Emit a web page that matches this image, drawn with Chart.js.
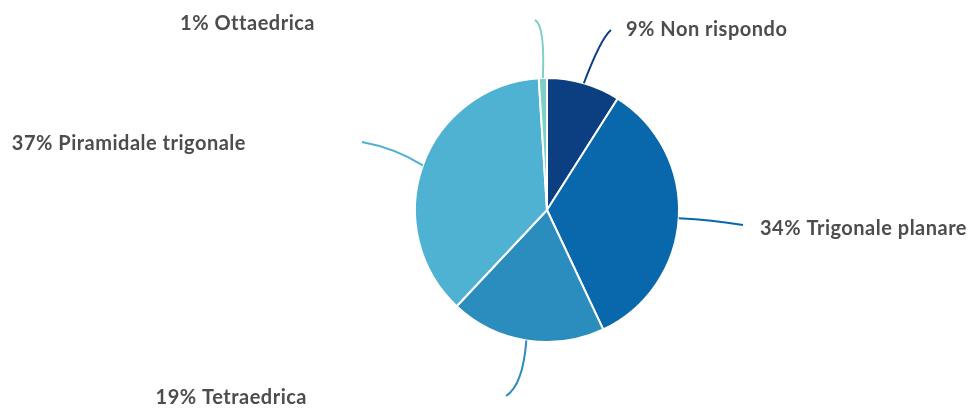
<!DOCTYPE html>
<html>
<head>
<meta charset="utf-8">
<script src="https://cdn.jsdelivr.net/npm/chart.js@4"></script>
<style>
  html, body { margin: 0; padding: 0; background: #fff; }
  #wrap { width: 973px; height: 408px; }
</style>
</head>
<body>
<div id="wrap"><canvas id="pie"></canvas></div>
<script>
const labels = ["Non rispondo", "Trigonale planare", "Tetraedrica", "Piramidale trigonale", "Ottaedrica"];
const percentages = [9, 34, 19, 37, 1];
const sliceColors = ["#0b3f81", "#0868ab", "#2b8cbe", "#4fb2d2", "#7fcfc6"];

// leader line end and label anchor, as offsets from the pie centre
const labelLayout = [
  { end: [64, -180], ctrl: [54, -172], text: [79, -180], align: "left" },
  { end: [196, 15], ctrl: [165, 10], text: [213, 19], align: "left" },
  { end: [-41, 186], ctrl: [-24, 175], text: [-240, 188], align: "right" },
  { end: [-185, -68], ctrl: [-152, -62], text: [-301, -66], align: "right" },
  { end: [-12, -190], ctrl: [-2, -185], text: [-232, -186], align: "right" },
];

const outerLabels = {
  id: "outerLabels",
  afterDatasetsDraw(chart) {
    const ctx = chart.ctx;
    const meta = chart.getDatasetMeta(0);
    ctx.save();
    meta.data.forEach((arc, i) => {
      const { x, y, startAngle, endAngle, outerRadius } = arc.getProps(
        ["x", "y", "startAngle", "endAngle", "outerRadius"], true);
      const mid = (startAngle + endAngle) / 2;
      const sx = x + Math.cos(mid) * outerRadius;
      const sy = y + Math.sin(mid) * outerRadius;
      const lay = labelLayout[i];
      ctx.beginPath();
      ctx.moveTo(sx, sy);
      ctx.quadraticCurveTo(x + lay.ctrl[0], y + lay.ctrl[1], x + lay.end[0], y + lay.end[1]);
      ctx.strokeStyle = sliceColors[i];
      ctx.lineWidth = 2;
      ctx.stroke();

      ctx.fillStyle = "#4d4d4d";
      ctx.font = "bold 20px Lato, 'Noto Sans', sans-serif";
      ctx.letterSpacing = "0.5px";
      ctx.textAlign = lay.align;
      ctx.textBaseline = "middle";
      ctx.fillText(percentages[i] + "% " + labels[i], x + lay.text[0], y + lay.text[1]);
    });
    ctx.restore();
  },
};

new Chart(document.getElementById("pie"), {
  type: "pie",
  data: {
    labels: labels,
    datasets: [{
      data: percentages,
      backgroundColor: sliceColors,
      borderColor: "#ffffff",
      borderWidth: 2,
    }],
  },
  options: {
    responsive: true,
    maintainAspectRatio: false,
    animation: false,
    layout: { padding: { top: 77, bottom: 65, left: 414, right: 293 } },
    plugins: {
      legend: { display: false },
      tooltip: { enabled: false },
    },
  },
  plugins: [outerLabels],
});
</script>
</body>
</html>
